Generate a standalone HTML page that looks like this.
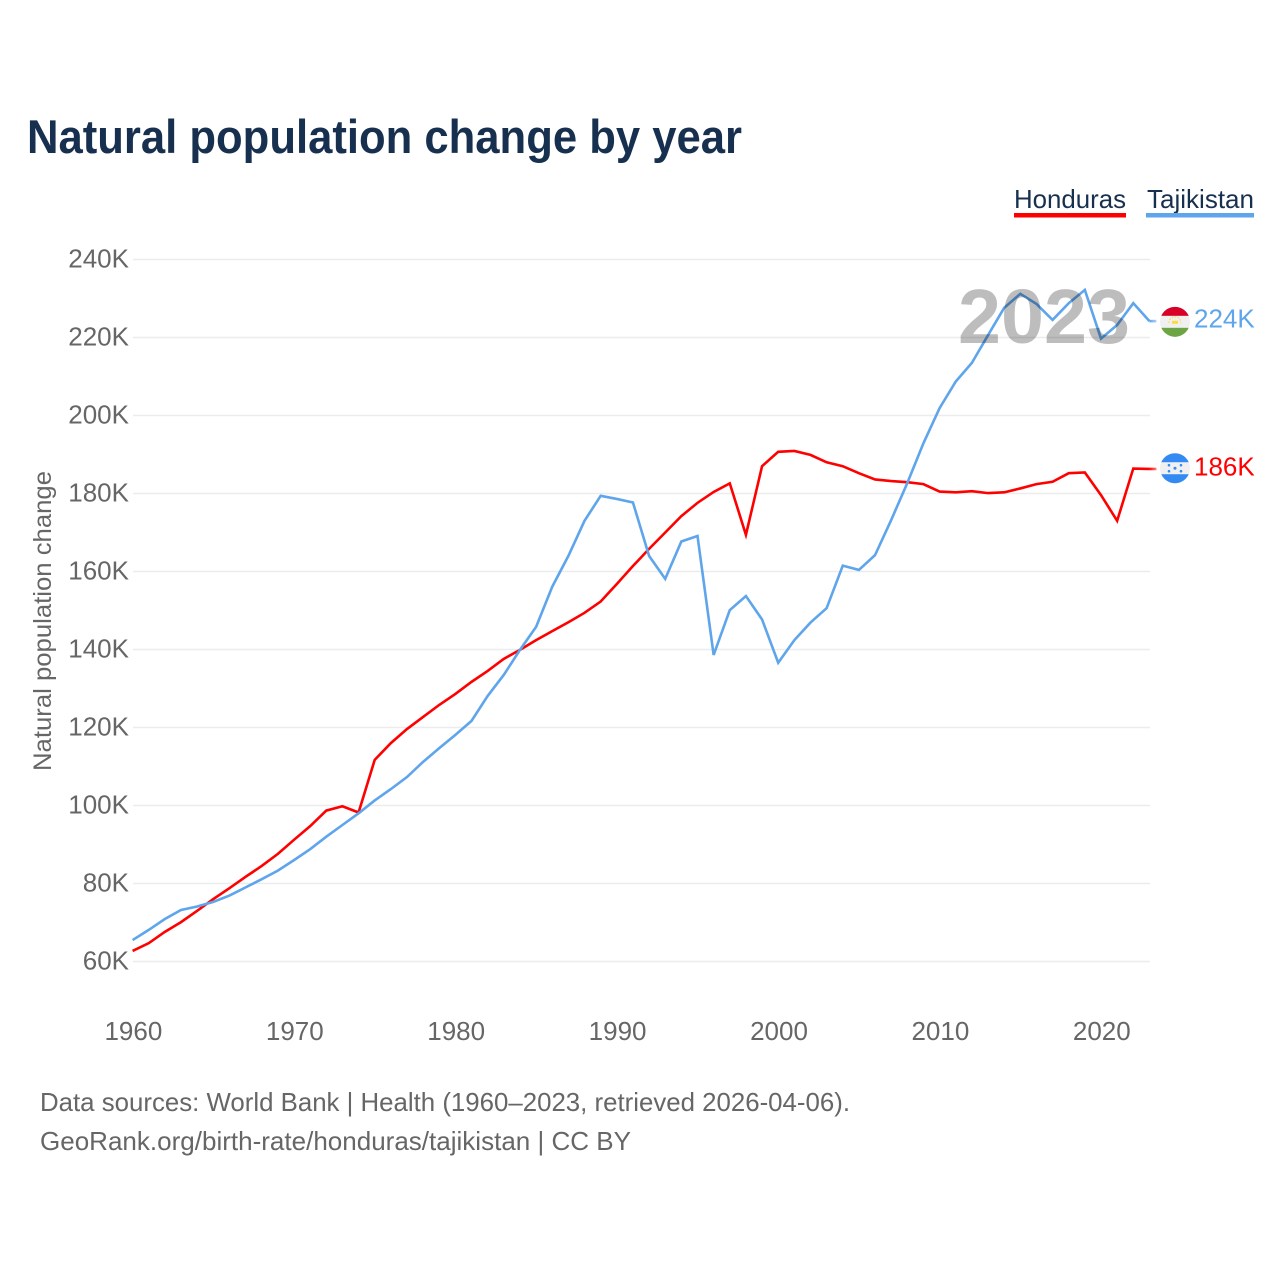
<!DOCTYPE html>
<html lang="en">
<head>
<meta charset="utf-8">
<title>Natural population change by year</title>
<style>
  html, body { margin: 0; padding: 0; background: #fff; }
  svg { display: block; font-family: "Liberation Sans", "DejaVu Sans", sans-serif; }
</style>
</head>
<body>
<svg id="chart" xmlns="http://www.w3.org/2000/svg" width="1280" height="1280" viewBox="0 0 1280 1280">
  <defs>
    <clipPath id="flag-clip"><circle cx="0" cy="0" r="15"></circle></clipPath>
    <linearGradient id="lead-red" x1="0" x2="1" y1="0" y2="0"><stop offset="0" stop-color="#ff0000"></stop><stop offset="1" stop-color="#ff0000" stop-opacity="0.5"></stop></linearGradient>
    <linearGradient id="lead-blue" x1="0" x2="1" y1="0" y2="0"><stop offset="0" stop-color="#5ea5ec"></stop><stop offset="1" stop-color="#5ea5ec" stop-opacity="0.5"></stop></linearGradient>
  </defs>
  <rect x="0" y="0" width="1280" height="1280" fill="#ffffff"></rect>
  <text x="27" y="153" font-size="47" font-weight="700" fill="#18304f" textLength="715" lengthAdjust="spacingAndGlyphs">Natural population change by year</text>

  <g>
    <g>
      <text x="1014" y="208" font-size="26" fill="#18304f" textLength="112" lengthAdjust="spacingAndGlyphs">Honduras</text>
      <rect x="1014" y="213" width="112" height="4.5" fill="#ff0000"></rect>
    </g>
    <g>
      <text x="1147" y="208" font-size="26" fill="#18304f" textLength="107" lengthAdjust="spacingAndGlyphs">Tajikistan</text>
      <rect x="1146" y="213" width="108" height="4.5" fill="#5ea5ec"></rect>
    </g>
  </g>

  <text transform="translate(51 771) rotate(-90)" x="0" y="0" font-size="25" fill="#666666" textLength="300" lengthAdjust="spacingAndGlyphs">Natural population change</text>

  <g id="grid"></g>
  <g id="y-ticks"></g>
  <g id="x-ticks"></g>
  <g id="series"></g>

  <text id="year-overlay" x="958" y="343" font-size="77" font-weight="700" fill="#000000" fill-opacity="0.26" textLength="172" lengthAdjust="spacingAndGlyphs">2023</text>

  <g id="flag-tajikistan">
    <g clip-path="url(#flag-clip)">
      <rect x="-16" y="-16" width="32" height="32" fill="#f0f0f0"></rect>
      <rect x="-16" y="-16" width="32" height="10" fill="#d80027"></rect>
      <rect x="-16" y="6" width="32" height="10" fill="#6da544"></rect>
      <rect x="-3" y="-1" width="6" height="3" fill="#ffda44"></rect>
      <path d="M-6 1 A6 6 0 0 1 6 1" fill="none" stroke="#ffda44" stroke-width="1.2" stroke-dasharray="1.5 1.5"></path>
    </g>
  </g>
  <g id="flag-honduras">
    <g clip-path="url(#flag-clip)">
      <rect x="-16" y="-16" width="32" height="32" fill="#f0f0f0"></rect>
      <rect x="-16" y="-16" width="32" height="10" fill="#338af3"></rect>
      <rect x="-16" y="6" width="32" height="10" fill="#338af3"></rect>
      <g fill="#338af3">
        <circle cx="-6" cy="-3" r="1.3"></circle><circle cx="6" cy="-3" r="1.3"></circle>
        <circle cx="0" cy="0" r="1.5"></circle>
        <circle cx="-6" cy="3" r="1.3"></circle><circle cx="6" cy="3" r="1.3"></circle>
      </g>
    </g>
  </g>
  <text id="end-label-tajikistan" x="1194" y="328" font-size="26" fill="#5ea5ec"></text>
  <text id="end-label-honduras" x="1194" y="476" font-size="26" fill="#ff0000"></text>

  <text x="40" y="1111" font-size="26" fill="#666666" textLength="810" lengthAdjust="spacingAndGlyphs">Data sources: World Bank | Health (1960–2023, retrieved 2026-04-06).</text>
  <text x="40" y="1150" font-size="26" fill="#666666" textLength="591" lengthAdjust="spacingAndGlyphs">GeoRank.org/birth-rate/honduras/tajikistan | CC BY</text>
</svg>

<script>
const startYear = 1960;
const yTickValues = [60, 80, 100, 120, 140, 160, 180, 200, 220, 240];
const xTickValues = [1960, 1970, 1980, 1990, 2000, 2010, 2020];
const honduras = [
  62.7, 64.7, 67.6, 70.1, 73.0, 76.0, 78.8, 81.7, 84.5, 87.6,
  91.2, 94.7, 98.7, 99.8, 98.2, 111.7, 116.0, 119.6, 122.7, 125.8,
  128.6, 131.7, 134.5, 137.6, 139.9, 142.4, 144.7, 147.0, 149.4, 152.3,
  156.8, 161.4, 165.8, 170.0, 174.2, 177.6, 180.4, 182.6, 169.4, 187.0,
  190.7, 190.9, 189.9, 188.0, 187.0, 185.2, 183.6, 183.2, 182.9, 182.4,
  180.5, 180.3, 180.6, 180.1, 180.3, 181.3, 182.4, 183.0, 185.2, 185.4,
  179.6, 173.0, 186.4, 186.3
];
const tajikistan = [
  65.5, 68.1, 70.9, 73.2, 74.1, 75.3, 76.9, 79.0, 81.1, 83.3,
  86.0, 88.8, 92.0, 95.0, 98.0, 101.3, 104.2, 107.3, 111.2, 114.7,
  118.1, 121.7, 128.1, 133.5, 139.9, 145.8, 156.1, 164.0, 173.0, 179.4,
  178.6, 177.7, 164.0, 158.1, 167.7, 169.1, 138.6, 150.1, 153.7, 147.7,
  136.6, 142.4, 146.9, 150.6, 161.5, 160.4, 164.2, 173.2, 182.7, 192.9,
  201.9, 208.7, 213.5, 220.6, 227.6, 231.2, 228.6, 224.5, 228.8, 232.2,
  219.7, 223.2, 228.8, 224.2
];

const svgNS = 'http://www.w3.org/2000/svg';
function xScale(year) { return 132.6 + (year - startYear) * 16.14; }
function yScale(value) { return 961.5 - (value - 60) * 3.9; }
function make(tag, props, parent) {
  const el = document.createElementNS(svgNS, tag);
  Object.keys(props).forEach(function (k) { el.setAttribute(k, props[k]); });
  parent.appendChild(el);
  return el;
}

const grid = document.getElementById('grid');
const yTicks = document.getElementById('y-ticks');
const xTicks = document.getElementById('x-ticks');
const seriesGroup = document.getElementById('series');

yTickValues.forEach(function (v) {
  const line = make('line', { x1: 133, x2: 1150, y1: yScale(v), y2: yScale(v), stroke: '#ececec', 'stroke-width': 1.5 }, grid);
  
  
  const label = make('text', { x: 129, y: yScale(v) + 8, 'text-anchor': 'end', 'font-size': 26, fill: '#666666' }, yTicks);
  
  
  label.textContent = v + 'K';
});

xTickValues.forEach(function (year) {
  const label = make('text', { x: xScale(year) + 0.8, y: 1040, 'text-anchor': 'middle', 'font-size': 26, fill: '#666666' }, xTicks);
  
  
  label.textContent = year;
});

function pathFor(values) {
  return values.map(function (v, i) {
    return (i ? 'L' : 'M') + xScale(startYear + i).toFixed(2) + ' ' + yScale(v).toFixed(2);
  }).join(' ');
}

const hondurasLine = make('path', { d: pathFor(honduras), fill: 'none', stroke: '#ff0000', 'stroke-width': 2.6, 'stroke-linejoin': 'miter' }, seriesGroup);



const tajikistanLine = make('path', { d: pathFor(tajikistan), fill: 'none', stroke: '#5ea5ec', 'stroke-width': 2.6, 'stroke-linejoin': 'miter' }, seriesGroup);



const endX = xScale(startYear + honduras.length - 1);
const hondurasEnd = yScale(honduras[honduras.length - 1]);
const tajikistanEnd = yScale(tajikistan[tajikistan.length - 1]);

const leadRed = make('rect', { x: endX, y: hondurasEnd - 1.3, width: 7, height: 2.6, fill: 'url(#lead-red)' }, seriesGroup);



const leadBlue = make('rect', { x: endX, y: tajikistanEnd - 1.3, width: 7, height: 2.6, fill: 'url(#lead-blue)' }, seriesGroup);



document.getElementById('flag-tajikistan').setAttribute('transform', 'translate(1175 ' + (tajikistanEnd + 0.7) + ')');
document.getElementById('flag-honduras').setAttribute('transform', 'translate(1175 ' + (hondurasEnd - 0.7) + ')');

const labelT = document.getElementById('end-label-tajikistan');
labelT.setAttribute('y', tajikistanEnd + 6.2);
labelT.textContent = Math.round(tajikistan[tajikistan.length - 1]) + 'K';
const labelH = document.getElementById('end-label-honduras');
labelH.setAttribute('y', hondurasEnd + 6.5);
labelH.textContent = Math.round(honduras[honduras.length - 1]) + 'K';
</script>
</body>
</html>
